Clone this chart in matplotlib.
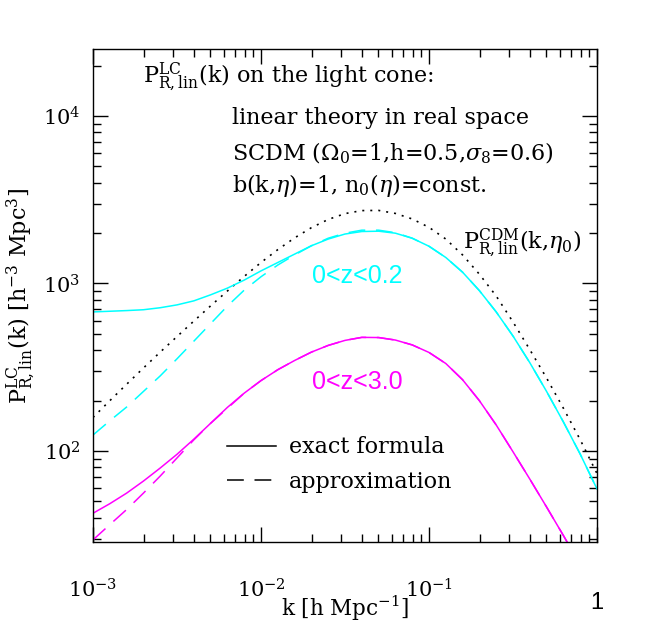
import numpy as np
import matplotlib
matplotlib.use("Agg")
from matplotlib import pyplot as plt
from matplotlib.lines import Line2D

plt.rcParams['font.family'] = 'DejaVu Serif'
plt.rcParams['mathtext.fontset'] = 'dejavuserif'

# log10(k) grid the curves were read on
log_k = np.round(np.arange(-3.0, 0.01, 0.1), 1)

# log10 P(k) values
log_p_cdm = [2.200, 2.300, 2.398, 2.495, 2.590, 2.683, 2.775, 2.866, 2.955, 3.042,
             3.125, 3.202, 3.272, 3.333, 3.382, 3.417, 3.435, 3.436, 3.418, 3.385,
             3.335, 3.265, 3.170, 3.055, 2.925, 2.770, 2.605, 2.435, 2.255, 2.067, 1.865]
log_p_z02 = [2.830, 2.834, 2.838, 2.843, 2.855, 2.872, 2.896, 2.932, 2.972, 3.020,
             3.075, 3.125, 3.175, 3.225, 3.265, 3.295, 3.310, 3.312, 3.300, 3.270,
             3.222, 3.155, 3.067, 2.957, 2.830, 2.686, 2.527, 2.355, 2.173, 1.981, 1.773]
log_p_z02_app = [2.095, 2.180, 2.262, 2.355, 2.448, 2.550, 2.655, 2.760, 2.865, 2.960,
                 3.040, 3.110, 3.170, 3.225, 3.270, 3.300, 3.318, 3.318, 3.303, 3.270,
                 3.222, 3.155, 3.067, 2.957, 2.830, 2.686, 2.527, 2.355, 2.173, 1.981, 1.773]
log_p_z30 = [1.628, 1.685, 1.748, 1.820, 1.898, 1.980, 2.070, 2.165, 2.260, 2.345,
             2.420, 2.485, 2.540, 2.590, 2.630, 2.660, 2.678, 2.677, 2.662, 2.633,
             2.588, 2.522, 2.425, 2.300, 2.155, 1.995, 1.832, 1.665, 1.495, 1.320, 1.140]
log_p_z30_app = [1.469, 1.560, 1.650, 1.748, 1.850, 1.958, 2.066, 2.165, 2.255, 2.345,
                 2.420, 2.485, 2.540, 2.590, 2.630, 2.660, 2.678, 2.677, 2.662, 2.633,
                 2.588, 2.522, 2.425, 2.300, 2.155, 1.995, 1.832, 1.665, 1.495, 1.320, 1.140]

k = 10.0 ** log_k
CYAN = '#00ffff'
MAGENTA = '#ff00ff'
dash = (0, (11, 7))

fig = plt.figure(figsize=(6.54, 6.27), dpi=100)
ax = fig.add_axes([93/654, 1-542/627, 504/654, 493/627])

ax.plot(k, 10.0 ** np.array(log_p_cdm), color='black', lw=1.2, linestyle=(0, (1.2, 3.6)))
ax.plot(k, 10.0 ** np.array(log_p_z02), color=CYAN, lw=1.1)
ax.plot(k, 10.0 ** np.array(log_p_z02_app), color=CYAN, lw=1.1, linestyle=dash)
ax.plot(k, 10.0 ** np.array(log_p_z30), color=MAGENTA, lw=1.1)
ax.plot(k, 10.0 ** np.array(log_p_z30_app), color=MAGENTA, lw=1.1, linestyle=dash)

ax.set_xscale('log')
ax.set_yscale('log')
ax.set_xlim(1e-3, 1)
ax.set_ylim(28.6, 25100)

ax.tick_params(which='both', direction='in', top=True, right=True, width=1.0)
ax.tick_params(which='major', length=11)
ax.tick_params(which='minor', length=5.5)
ax.tick_params(axis='x', which='major', pad=26, labelsize=15)
ax.tick_params(axis='y', which='major', pad=9, labelsize=15)
for sp in ax.spines.values():
    sp.set_linewidth(1.0)

ax.set_xticks([1e-3, 1e-2, 1e-1, 1], [r'$10^{-3}$', r'$10^{-2}$', r'$10^{-1}$', ''])
ax.set_yticks([1e2, 1e3, 1e4], [r'$10^{2}$', r'$10^{3}$', r'$10^{4}$'])
fig.text(597/654, 1-603/627, '1', family='Liberation Sans', fontsize=17,
         ha='center', va='center')

ax.set_xlabel(r'k [h Mpc$^{-1}$]', fontsize=15.5)
ax.xaxis.set_label_coords(0.5, -0.104)
ax.set_ylabel(r'$\mathrm{P^{LC}_{R,lin}}$(k) [h$^{-3}$ Mpc$^{3}$]', fontsize=16, labelpad=4)

fs = 16
ax.text(0.099, 0.943, r'$\mathrm{P^{LC}_{R,lin}}$(k) on the light cone:',
        transform=ax.transAxes, fontsize=fs, va='center')
ax.text(0.276, 0.860, 'linear theory in real space', transform=ax.transAxes, fontsize=fs, va='center')
ax.text(0.276, 0.789, r'SCDM ($\Omega_0$=1,h=0.5,$\sigma_8$=0.6)', transform=ax.transAxes,
        fontsize=fs, va='center')
ax.text(0.276, 0.724, r'b(k,$\eta$)=1, n$_0$($\eta$)=const.', transform=ax.transAxes,
        fontsize=fs, va='center')
ax.text(0.734, 0.606, r'$\mathrm{P^{CDM}_{R,lin}}$(k,$\eta_0$)', transform=ax.transAxes,
        fontsize=fs, va='center')
ax.text(0.524, 0.539, '0<z<0.2', transform=ax.transAxes, fontsize=18,
        family='Liberation Sans', color=CYAN, ha='center', va='center')
ax.text(0.524, 0.325, '0<z<3.0', transform=ax.transAxes, fontsize=18,
        family='Liberation Sans', color=MAGENTA, ha='center', va='center')

handles = [Line2D([0], [0], color='black', lw=1.1),
           Line2D([0], [0], color='black', lw=1.1, linestyle=(0, (11, 7)))]
ax.legend(handles, ['exact formula', 'approximation'], loc='upper left',
          bbox_to_anchor=(0.266, 0.214), frameon=False, fontsize=fs,
          handlelength=2.2, handletextpad=0.6, labelspacing=0.55,
          borderpad=0, borderaxespad=0)

fig.savefig('out.png', dpi=100)
